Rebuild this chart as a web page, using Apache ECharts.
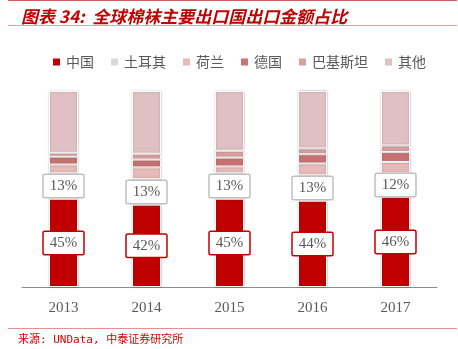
<!DOCTYPE html>
<html><head><meta charset="utf-8">
<script src="https://cdn.jsdelivr.net/npm/echarts@6/dist/echarts.min.js"></script>
<style>html,body{margin:0;padding:0;background:#fff}#c{width:458px;height:349px}</style>
</head><body><div id="c"></div>
<script>
const categories = ['2013','2014','2015','2016','2017'];
const china = [45, 42, 45, 44, 46];
const turkey = [13, 13, 13, 13, 12];
const netherlands = [4.5, 6, 3.5, 6, 5.8];
const germany = [4, 4, 4.5, 4.7, 5];
const pakistan = [2, 3, 3.5, 3, 3.4];
const others = [31.5, 32, 30.5, 29.3, 27.8];

const seriesNames = ['中国','土耳其','荷兰','德国','巴基斯坦','其他'];
const seriesData = [china, turkey, netherlands, germany, pakistan, others];
const colors = ['#c00000','#d9d9d9','#e8b9b9','#c87272','#d9a0a0','#e0c0c3'];
const labelBorders = ['#c00000','#bfbfbf'];

const chart = echarts.init(document.getElementById('c'), null, {renderer:'canvas'});
const series = seriesNames.map((n,i)=>({
  name:n, type:'bar', stack:'a', barWidth:29,
  data: seriesData[i],
  itemStyle:{color:colors[i], borderColor:'#fff', borderWidth:1,
    shadowColor:'rgba(0,0,0,0.28)', shadowBlur:2},
  label: i<2 ? {show:true, position:'inside', formatter:'{c}%',
    color:'#595959', fontFamily:'Liberation Serif', fontSize:15,
    backgroundColor:'#fff', borderColor:labelBorders[i], borderWidth:1.5,
    padding:[4,6,3,6], borderRadius:1} : {show:false}
}));
chart.setOption({
  animation:false,
  color: colors,
  title:{text:'图表 34:  全球棉袜主要出口国出口金额占比', left:16, top:3,
    textStyle:{color:'#c00000', fontSize:17, fontStyle:'italic', fontWeight:'bold',
      fontFamily:'Noto Sans CJK SC'}},
  legend:{left:46, top:50, itemWidth:9, itemHeight:9, itemGap:15,
    icon:'rect',
    textStyle:{color:'#595959', fontSize:14, fontFamily:'Noto Sans CJK SC'},
    data: seriesNames},
  grid:{left:22, right:21, top:91, bottom:62},
  xAxis:{type:'category', data:categories,
    axisLine:{lineStyle:{color:'#8c8c8c', width:1}}, axisTick:{show:false},
    axisLabel:{color:'#595959', fontSize:15, fontFamily:'Liberation Serif', margin:14}},
  yAxis:{type:'value', min:0, max:100, show:false},
  graphic:[
    {type:'line', shape:{x1:8,y1:0.5,x2:457,y2:0.5}, style:{stroke:'#d06060', lineWidth:1}},
    {type:'line', shape:{x1:8,y1:25.5,x2:457,y2:25.5}, style:{stroke:'#e8a0a0', lineWidth:1}},
    {type:'line', shape:{x1:8,y1:328.5,x2:457,y2:328.5}, style:{stroke:'#e89090', lineWidth:1}},
    {type:'text', left:18, top:335, style:{text:'来源: UNData, 中泰证券研究所', fill:'#d00000',
      font:'11px "DejaVu Sans Mono", "Noto Sans CJK SC"'}}
  ],
  series: series
});
</script></body></html>
